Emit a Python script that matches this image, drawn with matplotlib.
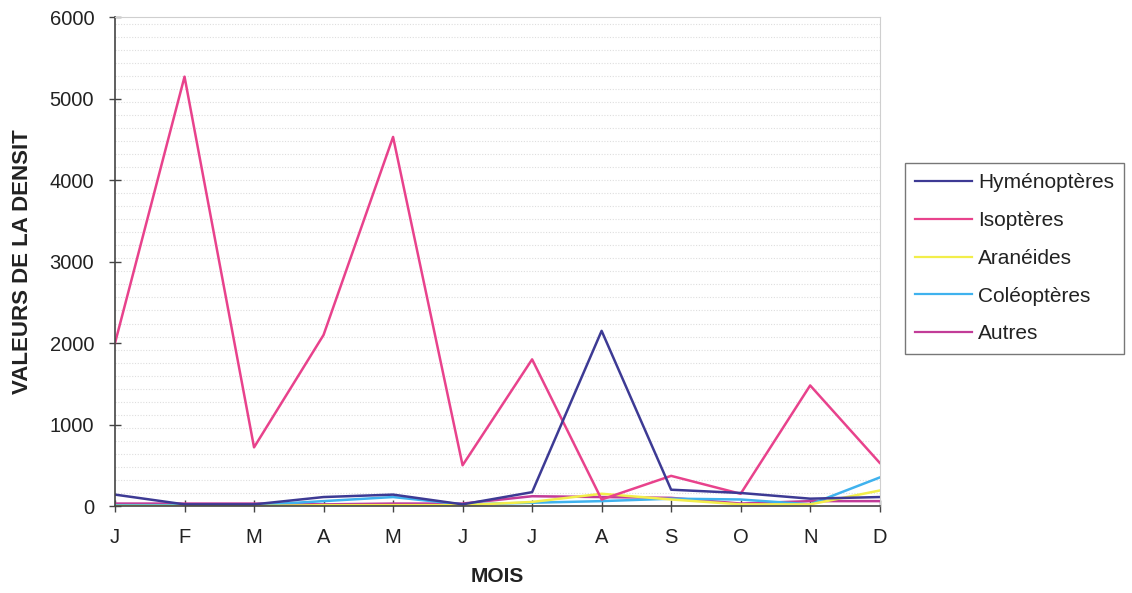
import matplotlib
matplotlib.use("Agg")
import matplotlib.pyplot as plt
import numpy as np

plt.rcParams['font.family'] = ['Liberation Sans', 'DejaVu Sans']

months = ["J", "F", "M", "A", "M", "J", "J", "A", "S", "O", "N", "D"]
hymenopteres = [140, 20, 20, 110, 140, 20, 170, 2150, 200, 160, 90, 110]
isopteres = [2000, 5270, 720, 2100, 4530, 500, 1800, 80, 370, 150, 1480, 530]
araneides = [0, 0, 0, 10, 10, 10, 50, 150, 80, 20, 20, 190]
coleopteres = [10, 10, 10, 60, 110, 20, 40, 60, 90, 80, 20, 350]
autres = [30, 30, 30, 20, 30, 30, 120, 110, 100, 30, 60, 60]

series = [
    ("Hyménoptères", hymenopteres, "#3d3a94"),
    ("Isoptères", isopteres, "#e8428c"),
    ("Aranéides", araneides, "#f2ee4a"),
    ("Coléoptères", coleopteres, "#3fb2ee"),
    ("Autres", autres, "#c23c98"),
]

fig = plt.figure(figsize=(11.32, 5.93), dpi=100)
ax = fig.add_axes([0.1016, 0.1467, 0.6755, 0.8243])

x = np.arange(len(months))
# faint textured background grid
for yv in np.arange(160, 6000, 160):
    ax.axhline(yv, color="#dedede", lw=0.8, ls=(0, (1, 1.5)), zorder=0)

for name, vals, col in reversed(series):
    ax.plot(x, vals, color=col, lw=1.8, label=name, zorder=2)

ax.set_xlim(0, len(months) - 1)
ax.set_ylim(0, 6000)
ax.set_yticks(np.arange(0, 6001, 1000))
ax.set_xticks(x)
ax.set_xticklabels(months)

ax.tick_params(axis="both", direction="inout", length=8, width=1, color="#444444",
               labelsize=14.5, labelcolor="#222222")
ax.tick_params(axis="x", pad=12)
ax.tick_params(axis="y", pad=11)

for s in ("left", "bottom"):
    ax.spines[s].set_color("#444444")
    ax.spines[s].set_linewidth(1.2)
for s in ("top", "right"):
    ax.spines[s].set_color("#cfcfcf")
    ax.spines[s].set_linewidth(0.8)

ax.set_ylabel("VALEURS DE LA DENSIT", fontsize=16, fontweight="bold", color="#222222", labelpad=12)
ax.set_xlabel("MOIS", fontsize=15, fontweight="bold", color="#222222", labelpad=14)

handles, labels = ax.get_legend_handles_labels()
handles = handles[::-1]
labels = labels[::-1]
leg = fig.legend(handles, labels, loc="upper left", bbox_to_anchor=(0.7995, 0.725),
                 borderaxespad=0, frameon=True, fancybox=False, edgecolor="#555555",
                 fontsize=15, handlelength=2.7, handletextpad=0.3, labelspacing=0.9,
                 borderpad=0.5, labelcolor="#222222")
leg.get_frame().set_linewidth(1.0)
for line in leg.get_lines():
    line.set_linewidth(1.6)

fig.savefig("out.png", dpi=100)
